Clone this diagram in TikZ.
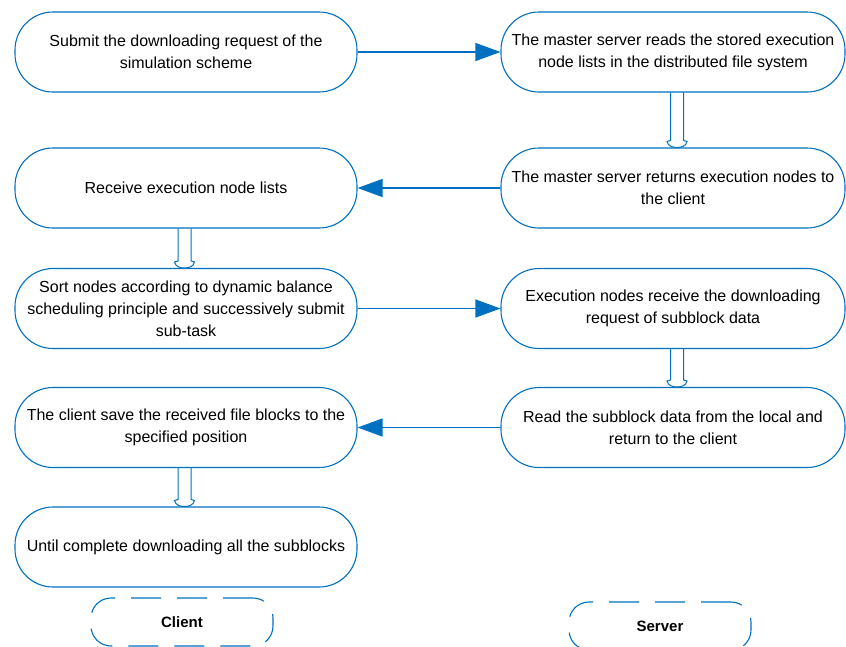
\documentclass[tikz,border=0pt]{standalone}
\usepackage{fontspec}
\setmainfont{Liberation Sans}
\usepackage{xcolor}
\usepackage{tikz}
\usetikzlibrary{arrows.meta,calc}
\definecolor{flowblue}{RGB}{0,112,192}
\tikzset{
  flowbox/.style  ={draw=flowblue,line width=1.1pt,rounded corners=38pt,align=center,
                    font=\fontsize{16}{22}\selectfont,inner sep=2pt,minimum height=80pt},
  lbox/.style     ={flowbox,minimum width=342pt},
  rbox/.style     ={flowbox,minimum width=344pt},
  rolebox/.style  ={draw=flowblue,line width=1.1pt,dash pattern=on 30pt off 16pt,
                    rounded corners=20pt,font=\fontsize{15}{18}\selectfont\bfseries,
                    minimum width=182pt,minimum height=48pt},
  arr/.style      ={draw=flowblue,line width=1.2pt,-{Triangle[length=25pt,width=18pt]}},
  hollow/.style   ={draw=flowblue,line width=1pt},
}
% hollow down arrow: from, to, x offset
\newcommand{\hollowarrow}[3]{%
  \draw[hollow] ($(#1.south)+(#3-6.5,0)$) -- ($(#2.north)+(#3-6.5,-7)$)
    -- ($(#2.north)+(#3-10,-6)$)
    .. controls ($(#2.north)+(#3-9,-1)$) and ($(#2.north)+(#3-4,0)$) .. ($(#2.north)+(#3,0)$)
    .. controls ($(#2.north)+(#3+4,0)$) and ($(#2.north)+(#3+9,-1)$) .. ($(#2.north)+(#3+10,-6)$)
    -- ($(#2.north)+(#3+6.5,-7)$) -- ($(#1.south)+(#3+6.5,0)$);}

\begin{document}
\begin{tikzpicture}[x=1pt,y=-1pt]
\useasboundingbox (0,0) rectangle (846,646);
\clip (0,0) rectangle (846,646);

% --- client side -----------------------------------------------------------
\node[lbox] (c1) at (186,52)    {Submit the downloading request of the\\ simulation scheme};
\node[lbox] (c2) at (186,188)   {Receive execution node lists};
\node[lbox] (c3) at (186,308.5) {Sort nodes according to dynamic balance\\ scheduling principle and successively submit\\ sub-task};
\node[lbox] (c4) at (186,427.5) {The client save the received file blocks to the\\ specified position};
\node[lbox] (c5) at (186,547)   {Until complete downloading all the subblocks};

% --- server side -----------------------------------------------------------
\node[rbox] (s1) at (673,52)    {The master server reads the stored execution\\ node lists in the distributed file system};
\node[rbox] (s2) at (673,188)   {The master server returns execution nodes to\\ the client};
\node[rbox] (s3) at (673,308.5) {Execution nodes receive the downloading\\ request of subblock data};
\node[rbox] (s4) at (673,427.5) {Read the subblock data from the local and\\ return to the client};

% --- requests and replies --------------------------------------------------
\draw[arr] (c1) -- (s1);
\draw[arr] (s2) -- (c2);
\draw[arr] (c3) -- (s3);
\draw[arr] (s4) -- (c4);

\hollowarrow{s1}{s2}{4}
\hollowarrow{c2}{c3}{-1.5}
\hollowarrow{s3}{s4}{4}
\hollowarrow{c4}{c5}{-1.5}

% --- lanes -----------------------------------------------------------------
\node[rolebox] (client) at (182,622) {Client};
\node[rolebox] (server) at (660,626) {Server};

\end{tikzpicture}
\end{document}
